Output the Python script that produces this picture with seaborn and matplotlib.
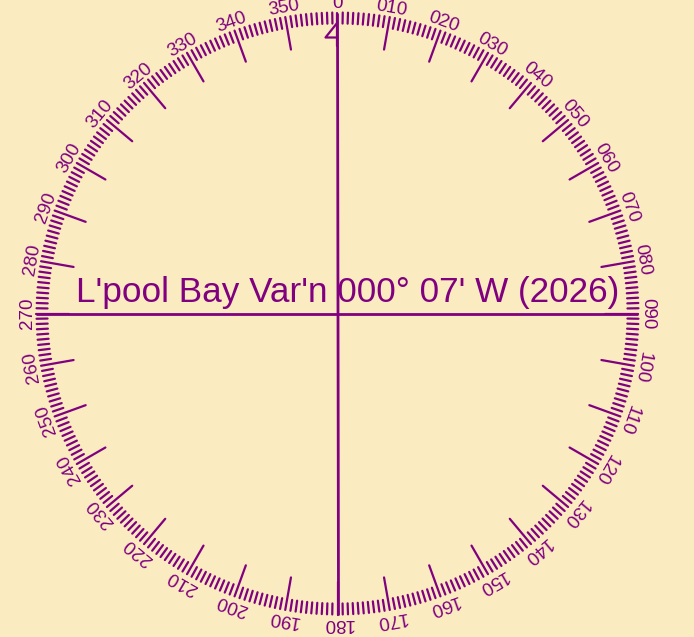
import numpy as np
import pandas as pd
import seaborn as sns
import matplotlib.pyplot as plt

# compass card data
bearings = list(range(0, 360))
label_bearings = list(range(0, 360, 10))
label_texts = ["0"] + [f"{b:03d}" for b in label_bearings[1:]]
variation_text = "L'pool Bay Var'n 000\u00b0 07' W (2026)"

bg = "#faebc0"
purple = "#800080"

sns.set_style("white", {"axes.facecolor": bg, "figure.facecolor": bg})
plt.rcParams["font.family"] = ["Liberation Sans", "DejaVu Sans"]

cx, cy = 337.5, 313.5
r_out = 301
r_minor = 290
r_major = 268
r_label = 310


def polar(b, r):
    a = np.deg2rad(b)
    return cx + r * np.sin(a), cy - r * np.cos(a)


rows = []
for b in bearings:
    r_in = r_major if b % 10 == 0 else r_minor
    for r in (r_out, r_in):
        x, y = polar(b, r)
        rows.append({"tick": b, "x": x, "y": y})
ticks = pd.DataFrame(rows)

fig = plt.figure(figsize=(6.94, 6.37), dpi=100)
ax = fig.add_axes([0, 0, 1, 1])

sns.lineplot(data=ticks, x="x", y="y", units="tick", estimator=None, sort=False,
             color=purple, linewidth=1.6, ax=ax, legend=False)

# cross lines through centre
for b in (0, 90):
    x1, y1 = polar(b, r_out)
    x2, y2 = polar(b + 180, r_out)
    ax.plot([x1, x2], [y1, y2], color=purple, lw=2, solid_capstyle="butt")

# north marker
tip = polar(0, 291)
base = polar(0, 276)
ax.plot([tip[0], base[0] - 12, base[0]], [tip[1], base[1], base[1]],
        color=purple, lw=1.6)

for b, t in zip(label_bearings, label_texts):
    x, y = polar(b, r_label)
    ax.text(x, y, t, rotation=-b, rotation_mode="anchor", ha="center",
            va="center", fontsize=13.5, color=purple)

ax.text(cx + 10, 302, variation_text, ha="center", va="baseline",
        fontsize=25.3, color=purple)

ax.set_xlim(0, 694)
ax.set_ylim(637, 0)
ax.axis("off")

fig.savefig("out.png", dpi=100, facecolor=bg)
